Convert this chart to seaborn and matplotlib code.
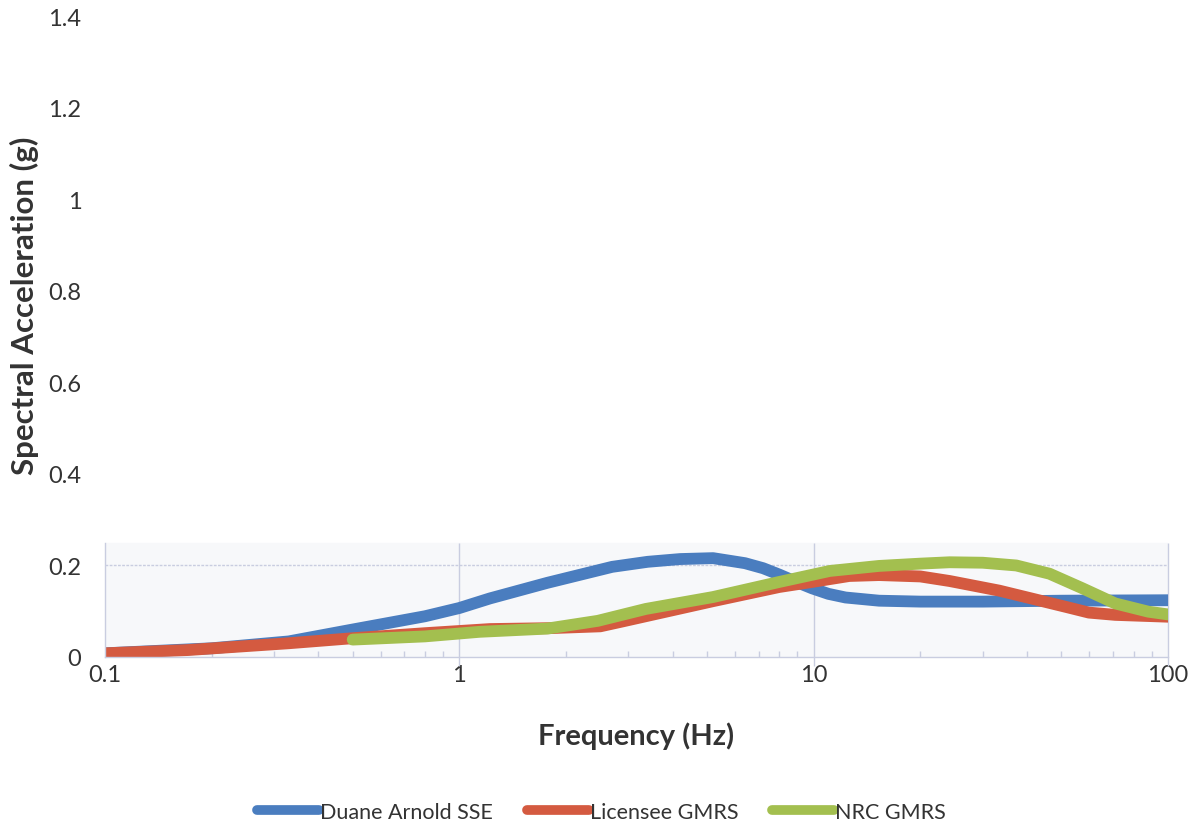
import numpy as np
import pandas as pd
import matplotlib
matplotlib.use("Agg")
import matplotlib.pyplot as plt
import seaborn as sns

# ---- data ----
freq_sse = [0.1, 0.2, 0.33, 0.5, 0.8, 1.0, 1.22, 1.77, 2.7, 3.4, 4.2, 5.2, 6.4, 7.2, 8.0, 9.0, 9.9, 11.0, 12.3, 15.3, 20, 30, 50, 100]
sse = [0.008, 0.019, 0.034, 0.060, 0.089, 0.107, 0.128, 0.162, 0.197, 0.208, 0.214, 0.216, 0.205, 0.194, 0.180, 0.163, 0.150, 0.138, 0.130, 0.123, 0.121, 0.121, 0.123, 0.124]

freq_lic = [0.1, 0.17, 0.33, 0.5, 0.8, 1.22, 1.8, 2.5, 2.9, 3.4, 5.2, 8.0, 9.9, 12.6, 15.3, 20, 24.2, 33.4, 41.6, 51.8, 59.8, 71, 100]
lic = [0.008, 0.015, 0.030, 0.041, 0.052, 0.061, 0.063, 0.067, 0.078, 0.090, 0.122, 0.153, 0.164, 0.177, 0.179, 0.176, 0.166, 0.145, 0.127, 0.109, 0.097, 0.092, 0.088]

freq_nrc = [0.5, 0.8, 1.14, 1.77, 2.46, 3.36, 5.2, 8.0, 11.1, 15.3, 20, 24.2, 30, 37.3, 46.3, 57.4, 71, 88, 100]
nrc = [0.038, 0.045, 0.055, 0.062, 0.079, 0.105, 0.131, 0.164, 0.188, 0.199, 0.204, 0.207, 0.206, 0.200, 0.182, 0.150, 0.117, 0.099, 0.093]

series_names = ["Duane Arnold SSE", "Licensee GMRS", "NRC GMRS"]
colors = ["#4a7dbf", "#d45a40", "#a3bf4f"]
x_ticks = [0.1, 1, 10, 100]
x_ticklabels = ["0.1", "1", "10", "100"]
y_ticks = [0, 0.2, 0.4, 0.6, 0.8, 1.0, 1.2, 1.4]
y_ticklabels = ["0", "0.2", "0.4", "0.6", "0.8", "1", "1.2", "1.4"]

df = pd.concat([
    pd.DataFrame({"f": freq_sse, "sa": sse, "series": series_names[0]}),
    pd.DataFrame({"f": freq_lic, "sa": lic, "series": series_names[1]}),
    pd.DataFrame({"f": freq_nrc, "sa": nrc, "series": series_names[2]}),
])

sns.set_theme(style="white")
plt.rcParams["font.family"] = ["Lato", "DejaVu Sans"]

fig = plt.figure(figsize=(12.03, 8.29), dpi=100)
ax = fig.add_axes([0.0873, 0.2063, 0.8836, 0.7727])

grid_c = "#c9cde0"
ax.axhspan(0, 0.25, color="#f7f8fa", zorder=0)

sns.lineplot(data=df, x="f", y="sa", hue="series", palette=colors,
             hue_order=series_names, linewidth=8.5, ax=ax,
             solid_capstyle="round", solid_joinstyle="round",
             sort=True, estimator=None, legend=True)

ax.set_xscale("log")
ax.set_xlim(0.1, 100)
ax.set_ylim(0, 1.4)

# faint grid/frame only in lower region as in the scan
ax.axhline(0.2, color=grid_c, lw=1, ls=(0, (2, 1)), zorder=1)
for spine in ["top", "right"]:
    ax.spines[spine].set_visible(False)
ax.spines["left"].set_bounds(0, 0.25)
ax.spines["left"].set_color(grid_c)
ax.spines["bottom"].set_color(grid_c)
ax.spines["left"].set_linewidth(1)
ax.spines["bottom"].set_linewidth(1)
ax.vlines([1, 10, 100], -0.02, 0.25, color=grid_c, lw=1, zorder=1, clip_on=False)

ax.set_xticks(x_ticks)
ax.set_xticklabels(x_ticklabels)
ax.set_yticks(y_ticks)
ax.set_yticklabels(y_ticklabels)
ax.tick_params(axis="both", which="major", length=0, labelsize=17, colors="#333333")
ax.tick_params(axis="y", pad=17)
ax.tick_params(axis="x", pad=5)
ax.xaxis.set_minor_locator(matplotlib.ticker.LogLocator(base=10, subs=np.arange(2, 10)))
ax.xaxis.set_minor_formatter(matplotlib.ticker.NullFormatter())
ax.tick_params(axis="x", which="minor", direction="in", length=4, color=grid_c, bottom=True)

ax.set_xlabel("Frequency (Hz)", fontsize=21, fontweight="bold", color="#333333", labelpad=26)
ax.set_ylabel("Spectral Acceleration (g)", fontsize=22.5, fontweight="bold", color="#333333")
ax.yaxis.set_label_coords(-0.062, 0.55)

handles, labels = ax.get_legend_handles_labels()
ax.get_legend().remove()
leg = fig.legend(handles, labels, loc="lower center", bbox_to_anchor=(0.5, -0.016), ncol=3,
                 frameon=False, handlelength=2.9, handletextpad=0.05, columnspacing=1.55,
                 fontsize=15.5)
for line in leg.get_lines():
    line.set_linewidth(7)
    line.set_solid_capstyle("round")
for t in leg.get_texts():
    t.set_color("#333333")

fig.savefig("out.png", dpi=100)
